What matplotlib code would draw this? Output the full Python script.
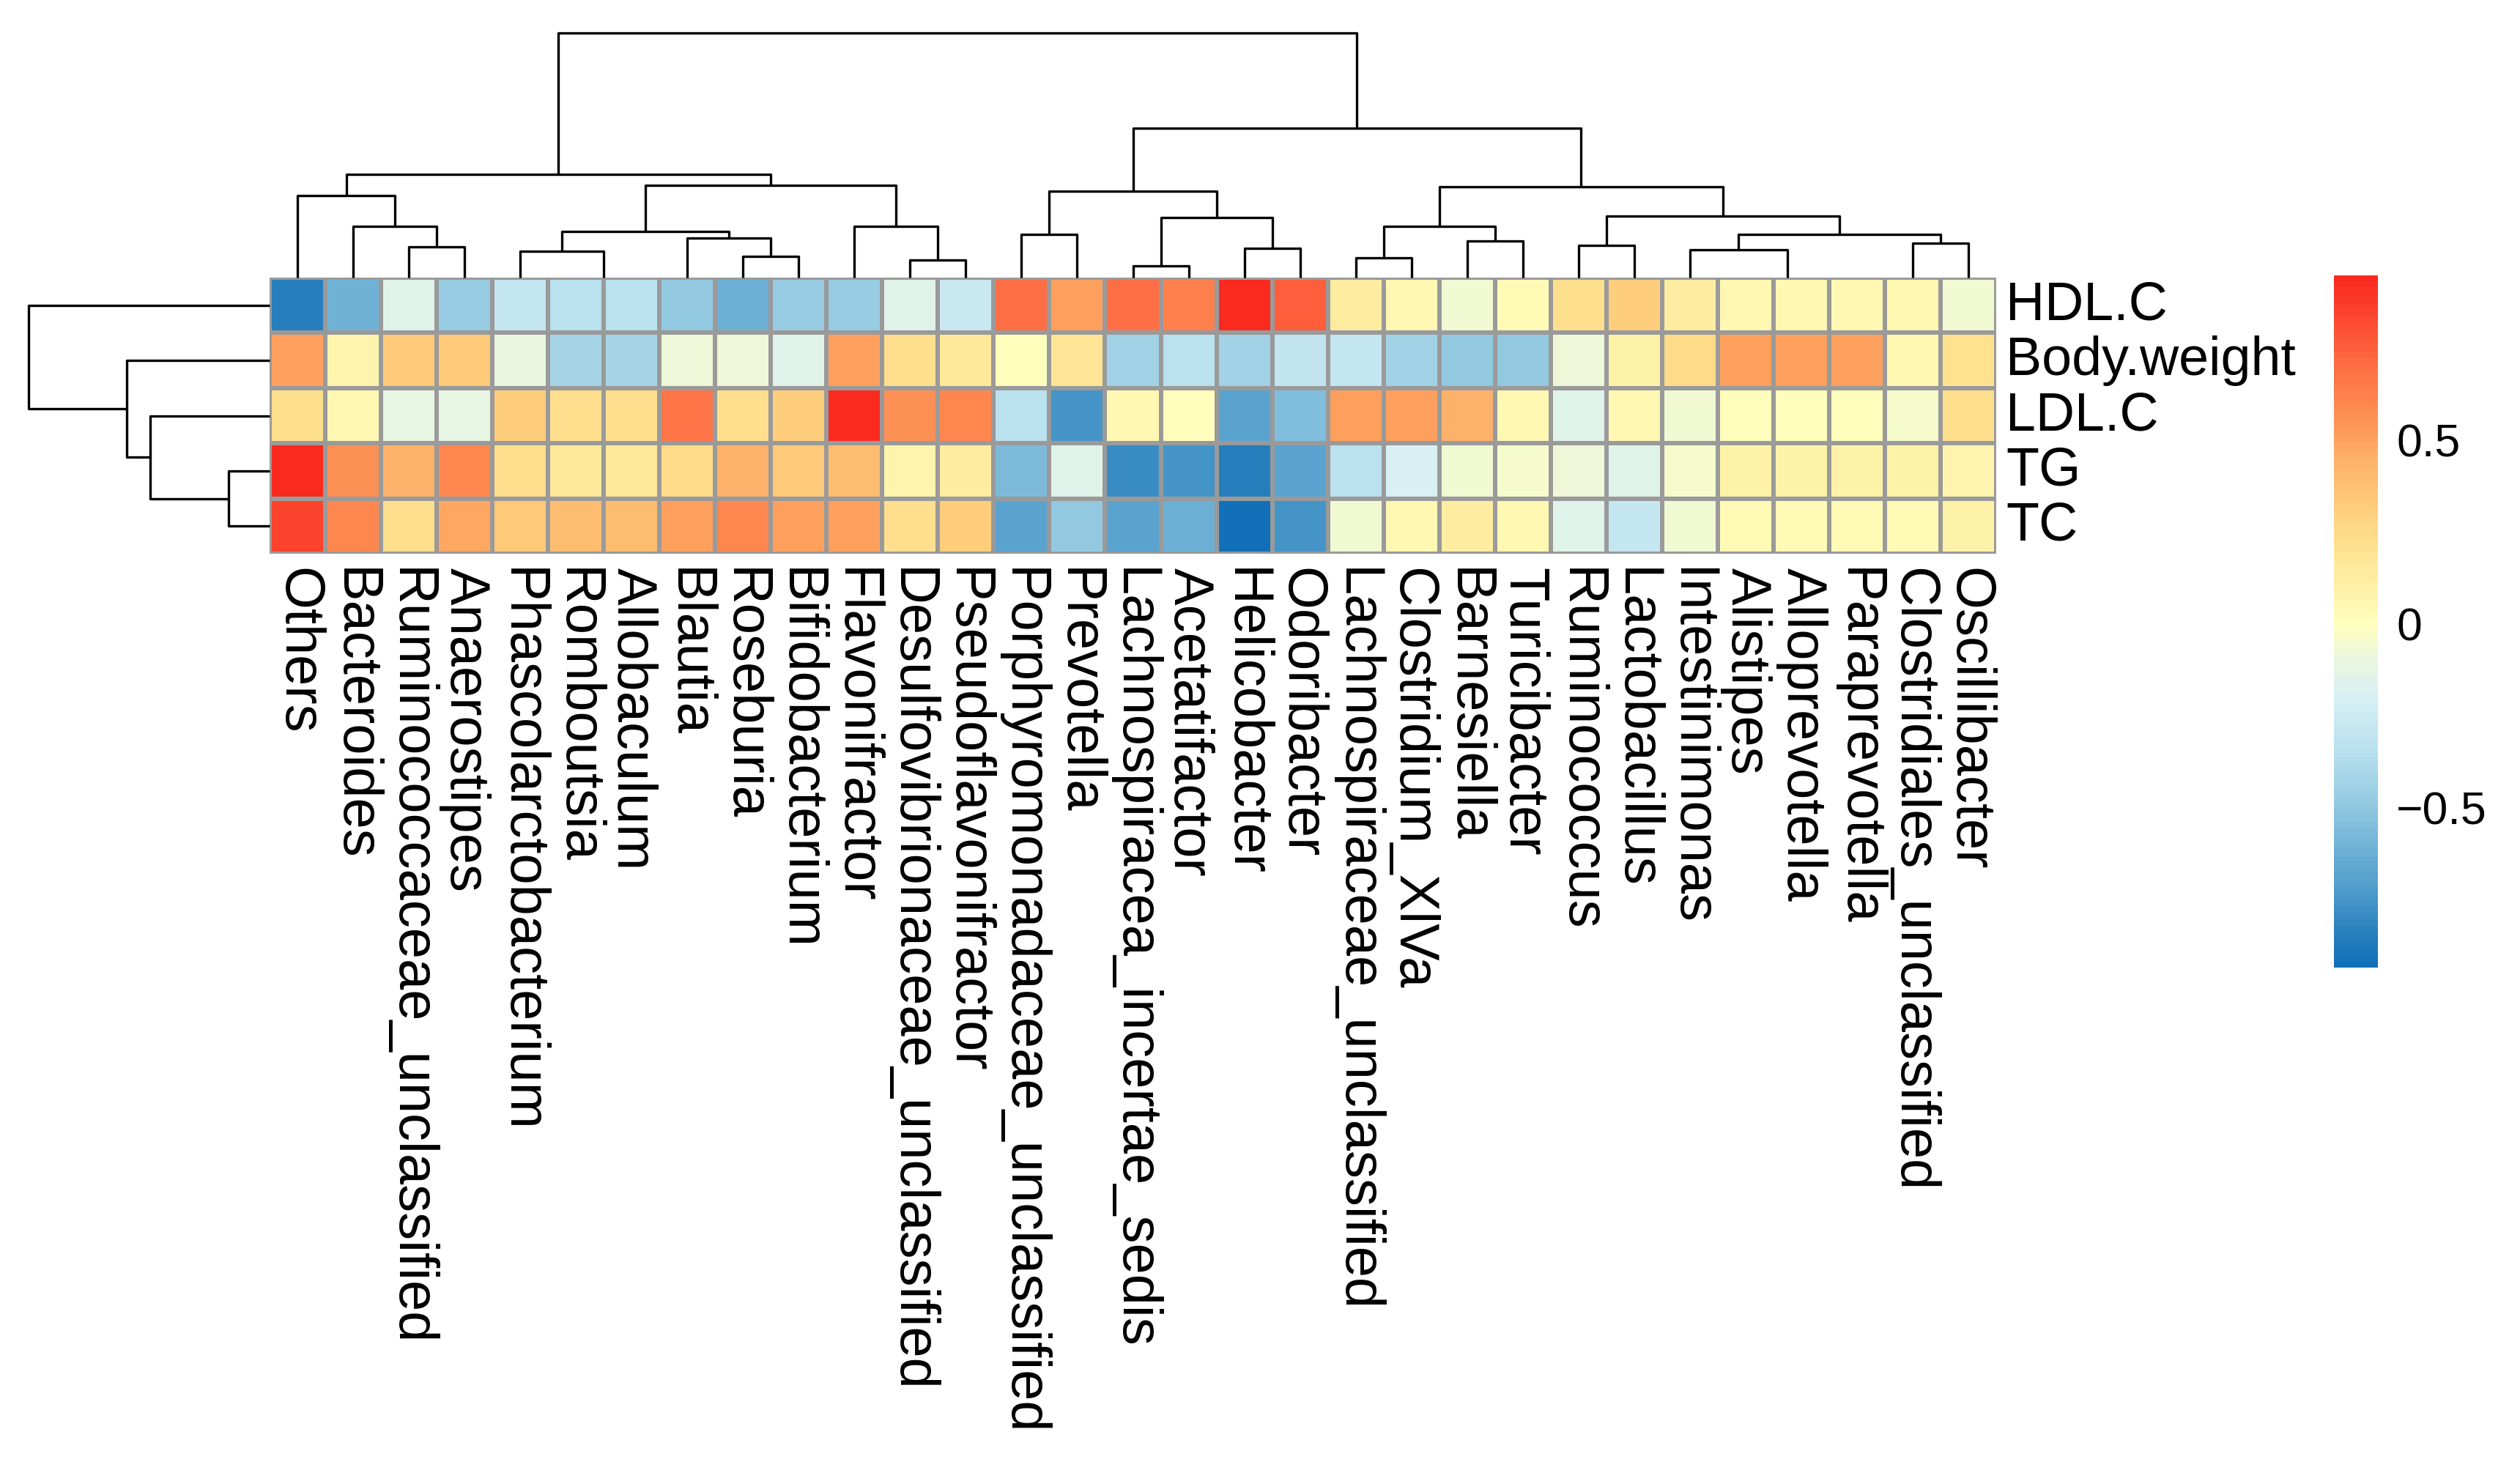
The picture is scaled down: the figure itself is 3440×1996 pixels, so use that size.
import numpy as np
import matplotlib
matplotlib.use("Agg")
import matplotlib.pyplot as plt
from matplotlib.colors import LinearSegmentedColormap, ListedColormap, Normalize
from matplotlib.cm import ScalarMappable

plt.rcParams["font.family"] = ["Liberation Sans", "DejaVu Sans"]

# columns (genera) in dendrogram order
genera = ["Others", "Bacteroides", "Ruminococcaceae_unclassified", "Anaerostipes",
          "Phascolarctobacterium", "Romboutsia", "Allobaculum", "Blautia", "Roseburia",
          "Bifidobacterium", "Flavonifractor", "Desulfovibrionaceae_unclassified",
          "Pseudoflavonifractor", "Porphyromonadaceae_unclassified", "Prevotella",
          "Lachnospiracea_incertae_sedis", "Acetatifactor", "Helicobacter", "Odoribacter",
          "Lachnospiraceae_unclassified", "Clostridium_XlVa", "Barnesiella", "Turicibacter",
          "Ruminococcus", "Lactobacillus", "Intestinimonas", "Alistipes", "Alloprevotella",
          "Paraprevotella", "Clostridiales_unclassified", "Oscillibacter"]
traits = ["HDL.C", "Body.weight", "LDL.C", "TG", "TC"]

# correlation values per trait
hdl_c = [-0.85, -0.60, -0.15, -0.48, -0.28, -0.35, -0.35, -0.50, -0.62, -0.48, -0.48, -0.15, -0.27,
         0.70, 0.50, 0.70, 0.62, 0.948, 0.75, 0.13, 0.05, -0.06, 0.03, 0.22, 0.32, 0.13,
         0.05, 0.05, 0.05, 0.05, -0.05]
body_weight = [0.50, 0.08, 0.33, 0.33, -0.10, -0.42, -0.42, -0.07, -0.07, -0.15, 0.50, 0.22, 0.16,
               0.02, 0.18, -0.43, -0.35, -0.43, -0.30, -0.28, -0.43, -0.50, -0.50, -0.07, 0.10, 0.24,
               0.50, 0.50, 0.50, 0.05, 0.20]
ldl_c = [0.22, 0.05, -0.12, -0.12, 0.32, 0.22, 0.22, 0.68, 0.22, 0.32, 0.93, 0.56, 0.60,
         -0.35, -0.75, 0.05, 0.02, -0.68, -0.55, 0.50, 0.50, 0.45, 0.05, -0.15, 0.05, -0.06,
         0.02, 0.02, 0.02, -0.04, 0.22]
tg = [0.93, 0.56, 0.45, 0.60, 0.22, 0.17, 0.17, 0.25, 0.45, 0.33, 0.40, 0.08, 0.13,
      -0.57, -0.15, -0.80, -0.75, -0.85, -0.68, -0.35, -0.20, -0.06, -0.04, -0.07, -0.15, -0.04,
      0.10, 0.10, 0.10, 0.10, 0.07]
tc = [0.85, 0.60, 0.22, 0.48, 0.33, 0.40, 0.40, 0.50, 0.60, 0.50, 0.50, 0.22, 0.32,
      -0.68, -0.50, -0.68, -0.62, -0.935, -0.75, -0.06, 0.05, 0.13, 0.05, -0.15, -0.28, -0.06,
      0.04, 0.04, 0.04, 0.04, 0.10]
values = np.array([hdl_c, body_weight, ldl_c, tg, tc])

# column tree: (left id, right id, height); leaves 0..30, new clusters numbered from 31
col_merges = [(2, 3, 42), (1, 31, 70), (0, 32, 112), (5, 6, 0), (4, 34, 36), (8, 9, 29),
              (7, 36, 54), (35, 37, 63), (11, 12, 24), (10, 39, 70), (38, 40, 126), (33, 41, 141),
              (13, 14, 59), (15, 16, 16), (17, 18, 40), (44, 45, 82), (43, 46, 118), (19, 20, 27),
              (21, 22, 50), (48, 49, 70), (23, 24, 44), (27, 28, 0), (26, 52, 0), (25, 53, 38),
              (29, 30, 47), (54, 55, 59), (51, 56, 84), (50, 57, 124), (47, 58, 204), (42, 59, 334)]
# row tree: leaves 0..4, new clusters from 5
row_merges = [(3, 4, 56), (2, 5, 163), (1, 6, 195), (0, 7, 329)]

W, H = 3440, 1996
fig = plt.figure(figsize=(W / 200, H / 200), dpi=200)

# colour ramp (100 steps like pheatmap)
ramp = LinearSegmentedColormap.from_list("ramp", [
    (0.000, "#1170B8"), (0.045, "#2A80BD"), (0.098, "#4A98C9"), (0.178, "#75B5D8"),
    (0.232, "#92C9E1"), (0.311, "#B8E0EE"), (0.391, "#D8F0F4"), (0.444, "#EAF6DE"),
    (0.497, "#FFFFBF"), (0.561, "#FEEEA2"), (0.614, "#FEE08E"), (0.672, "#FECC7A"),
    (0.736, "#FDB26A"), (0.789, "#FD9556"), (0.869, "#FF7045"), (1.000, "#FA2A1F")])
cmap = ListedColormap(ramp(np.linspace(0, 1, 100)))
norm = Normalize(vmin=values.min(), vmax=values.max())

n_rows, n_cols = values.shape

# heatmap
hx0, hx1, hy0, hy1 = 368, 2725, 379, 756
ax = fig.add_axes([hx0 / W, 1 - hy1 / H, (hx1 - hx0) / W, (hy1 - hy0) / H])
ax.pcolormesh(values, cmap=cmap, norm=norm, edgecolors="#9a9a9a", linewidth=1.5)
ax.set_xlim(0, n_cols)
ax.set_ylim(n_rows, 0)
ax.axis("off")

for i, name in enumerate(traits):
    ax.text(n_cols + 0.17, i + 0.5, name, fontsize=26.5, ha="left", va="center")
for j, name in enumerate(genera):
    ax.text(j + 0.5, n_rows + 0.25, name, fontsize=27.3, rotation=270,
            ha="center", va="top")


def draw_tree(axis, merges, n, top):
    pos = {i: i + 0.5 for i in range(n)}
    hgt = {i: 0.0 for i in range(n)}
    for k, (a, b, h) in enumerate(merges):
        pos[n + k] = (pos[a] + pos[b]) / 2
        hgt[n + k] = h
        if h == 0:
            # merge at zero height sits on the heatmap border
            continue
        xs = [pos[a], pos[a], pos[b], pos[b]]
        ys = [hgt[a], h, h, hgt[b]]
        if top:
            axis.plot(xs, ys, color="black", lw=1.2, clip_on=False, solid_capstyle="butt")
        else:
            axis.plot(ys, xs, color="black", lw=1.2, clip_on=False, solid_capstyle="butt")


# top dendrogram
axt = fig.add_axes([hx0 / W, 1 - hy0 / H, (hx1 - hx0) / W, (hy0 - 45) / H])
draw_tree(axt, col_merges, n_cols, True)
axt.set_xlim(0, n_cols)
axt.set_ylim(0, col_merges[-1][2])
axt.axis("off")

# left dendrogram
axl = fig.add_axes([39 / W, 1 - hy1 / H, (hx0 - 39) / W, (hy1 - hy0) / H])
draw_tree(axl, row_merges, n_rows, False)
axl.set_ylim(n_rows, 0)
axl.set_xlim(row_merges[-1][2], 0)
axl.axis("off")

# colour bar
cax = fig.add_axes([3186 / W, 1 - 1321 / H, 60 / W, 945 / H])
cb = fig.colorbar(ScalarMappable(norm=norm, cmap=cmap), cax=cax, ticks=[-0.5, 0, 0.5])
cb.outline.set_visible(False)
cb.ax.set_yticklabels(["\u22120.5", "0", "0.5"])
cax.tick_params(length=0, pad=9, labelsize=22.5)

fig.savefig("out.png", dpi=200)
